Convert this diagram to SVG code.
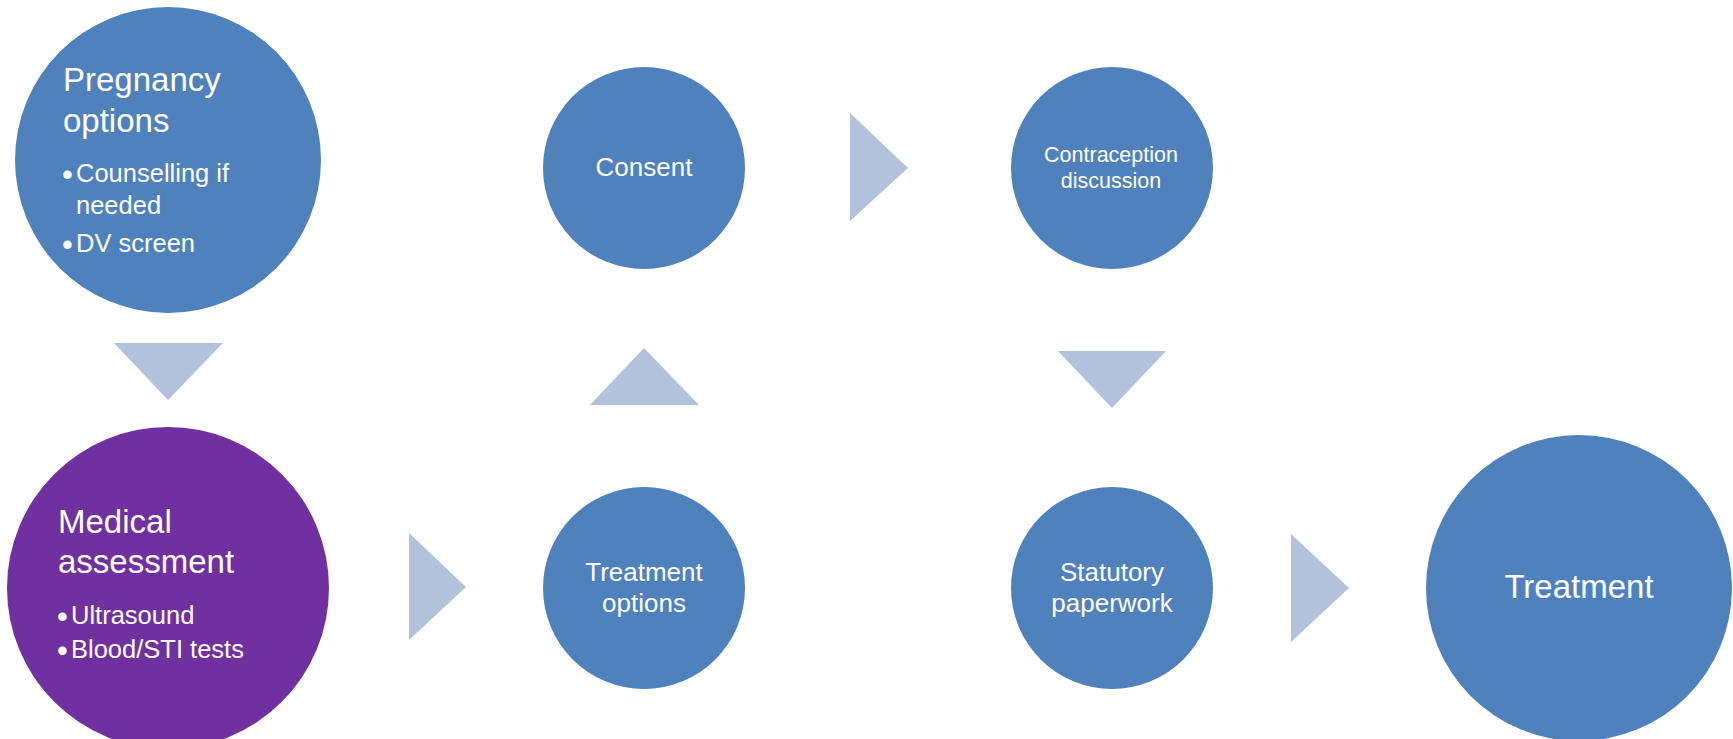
<svg xmlns="http://www.w3.org/2000/svg" width="1733" height="739" viewBox="0 0 1733 739">
  <style>
    .blue { fill: #4F81BD; }
    .purple { fill: #7030A0; }
    .arrow { fill: #B2C2DC; }
    text { font-family: "Liberation Sans", Arial, sans-serif; fill: #FFFFFF; }
    .big { font-size: 33px; }
    .bul { font-size: 25.5px; }
    .dot { font-size: 31px; }
    .mid { font-size: 26px; text-anchor: middle; }
    .small { font-size: 21.5px; text-anchor: middle; }
    .huge { font-size: 33px; text-anchor: middle; }
  </style>
  <rect width="1733" height="739" fill="#FFFFFF"/>
  <g id="connectors">
    <polygon class="arrow" points="114,343 223,343 168,400"/>
    <polygon class="arrow" points="590,405 699,405 644,348"/>
    <polygon class="arrow" points="1058,351 1166,351 1112,408"/>
    <polygon class="arrow" points="850,113 850,221 908,168"/>
    <polygon class="arrow" points="409,533 409,640 466,587"/>
    <polygon class="arrow" points="1291,534 1291,642 1349,588"/>
  </g>
  <g id="pregnancy-options">
    <circle class="blue" cx="168" cy="160" r="153"/>
    <text class="big" x="63" y="91">Pregnancy</text>
    <text class="big" x="63" y="132">options</text>
    <text class="bul" y="182"><tspan class="dot" x="62" dy="3">•</tspan><tspan x="76" dy="-3">Counselling if</tspan></text>
    <text class="bul" x="76" y="214">needed</text>
    <text class="bul" y="252"><tspan class="dot" x="62" dy="3">•</tspan><tspan x="76" dy="-3">DV screen</tspan></text>
  </g>
  <g id="medical-assessment">
    <circle class="purple" cx="168" cy="588" r="161"/>
    <text class="big" x="58" y="533">Medical</text>
    <text class="big" x="58" y="573">assessment</text>
    <text class="bul" y="624"><tspan class="dot" x="57" dy="3">•</tspan><tspan x="71" dy="-3">Ultrasound</tspan></text>
    <text class="bul" y="658"><tspan class="dot" x="57" dy="3">•</tspan><tspan x="71" dy="-3">Blood/STI tests</tspan></text>
  </g>
  <g id="consent">
    <circle class="blue" cx="644" cy="168" r="101"/>
    <text class="mid" x="644" y="176">Consent</text>
  </g>
  <g id="contraception-discussion">
    <circle class="blue" cx="1112" cy="168" r="101"/>
    <text class="small" x="1111" y="162">Contraception</text>
    <text class="small" x="1111" y="188">discussion</text>
  </g>
  <g id="treatment-options">
    <circle class="blue" cx="644" cy="588" r="101"/>
    <text class="mid" x="644" y="581">Treatment</text>
    <text class="mid" x="644" y="612">options</text>
  </g>
  <g id="statutory-paperwork">
    <circle class="blue" cx="1112" cy="588" r="101"/>
    <text class="mid" x="1112" y="581">Statutory</text>
    <text class="mid" x="1112" y="612">paperwork</text>
  </g>
  <g id="treatment">
    <circle class="blue" cx="1579" cy="588" r="153"/>
    <text class="huge" x="1579" y="598">Treatment</text>
  </g>
</svg>
